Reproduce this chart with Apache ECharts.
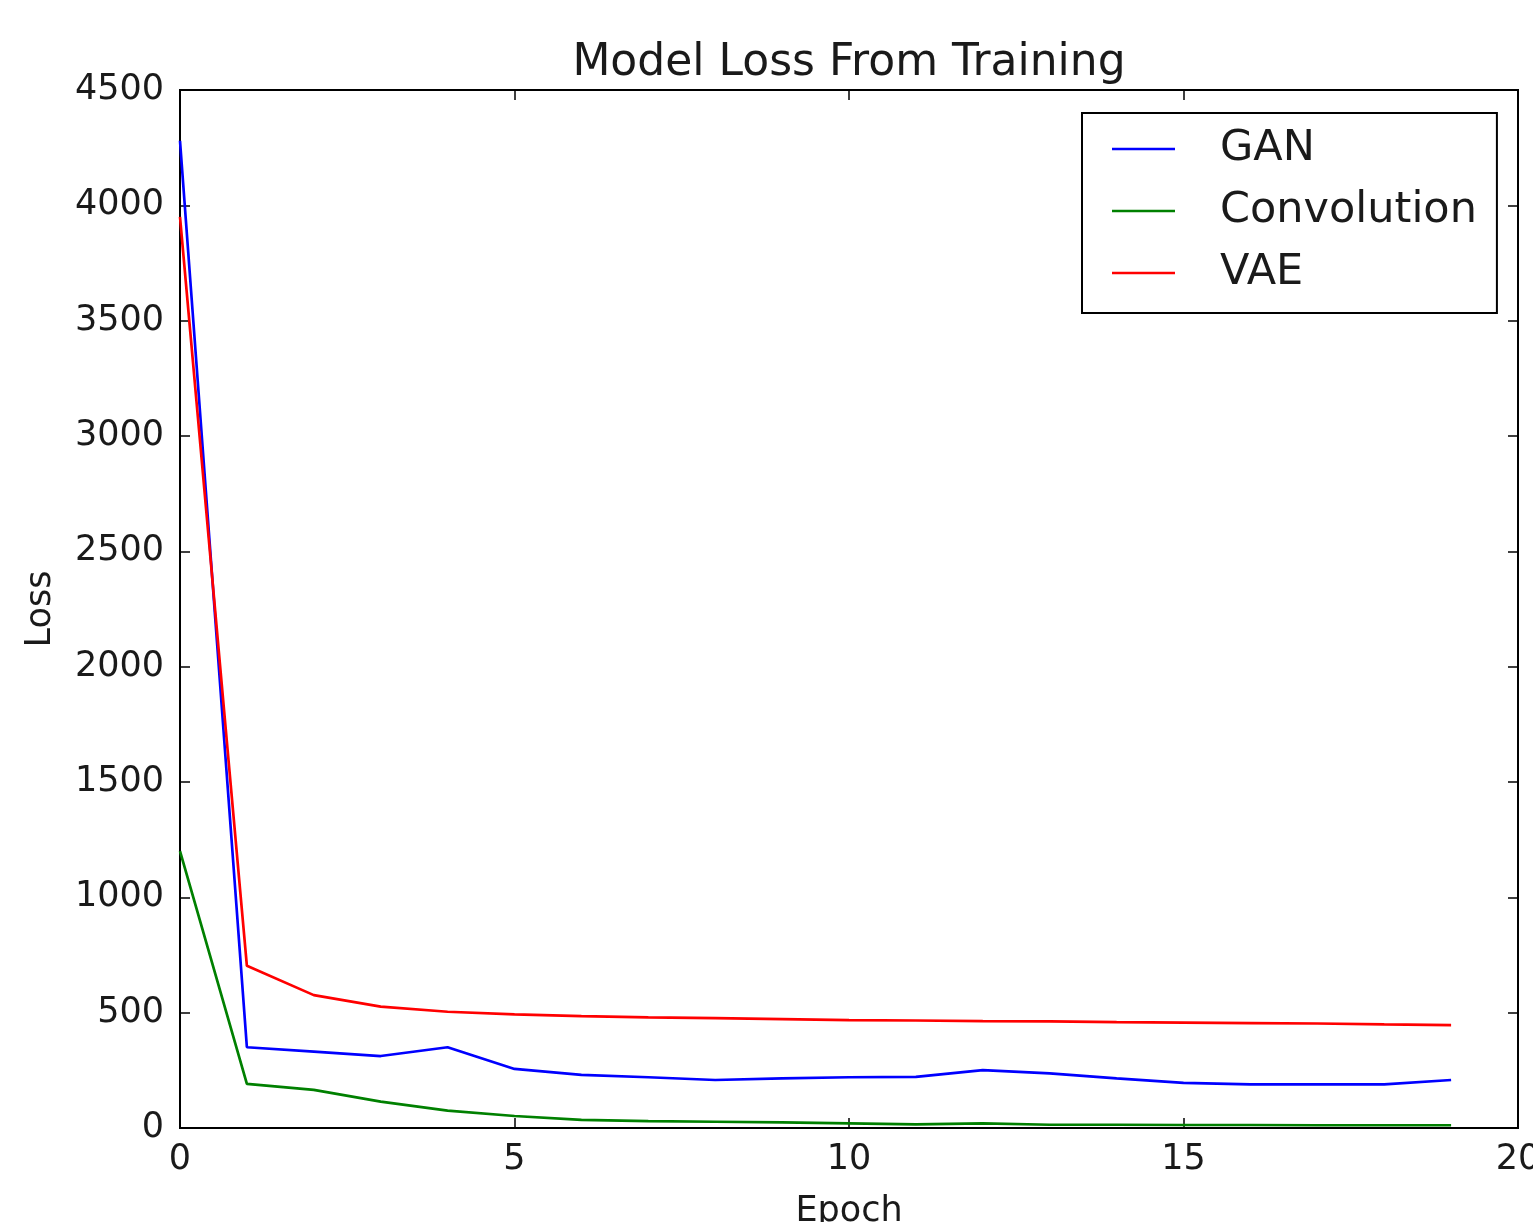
<!DOCTYPE html>
<html>
<head>
<meta charset="utf-8">
<script src="https://cdn.jsdelivr.net/npm/echarts@6/dist/echarts.min.js"></script>
<style>
  html, body { margin: 0; padding: 0; background: #fff; }
  #main { width: 1533px; height: 1222px; }
</style>
</head>
<body>
<div id="main"></div>
<script>
var epochs = [0, 1, 2, 3, 4, 5, 6, 7, 8, 9, 10, 11, 12, 13, 14, 15, 16, 17, 18, 19];
var gan = [4280, 350, 331, 312, 350, 256, 230, 220, 208, 215, 220, 222, 251, 237, 215, 196, 189, 189, 189, 208];
var conv = [1200, 191, 165, 114, 75, 52, 35, 30, 27, 24, 20, 16, 20, 14, 14, 13, 13, 12, 12, 12];
var vae = [3950, 703, 576, 526, 504, 493, 485, 480, 476, 472, 468, 466, 463, 462, 459, 457, 455, 453, 449, 446];

var font = 'DejaVu Sans';
var ink = '#1a1a1a';

function pairs(ys) {
    return epochs.map(function (x, i) { return [x, ys[i]]; });
}

function axisLine() {
    return { show: true, onZero: false, lineStyle: { color: '#000', width: 2 } };
}
function tick() {
    return { show: true, inside: true, length: 10, lineStyle: { color: '#000', width: 1.5 } };
}

var myChart = echarts.init(document.getElementById('main'));
var option = {
    animation: false,
    backgroundColor: '#fff',
    textStyle: { fontFamily: font },
    title: {
        text: 'Model Loss From Training',
        left: 849,
        textAlign: 'center',
        top: 42,
        padding: 0,
        textStyle: { fontFamily: font, fontSize: 44, fontWeight: 'normal', color: ink }
    },
    legend: {
        left: 1082,
        top: 113,
        orient: 'vertical',
        padding: [12, 20, 16, 30],
        borderColor: '#000',
        borderWidth: 2,
        icon: 'rect',
        itemWidth: 63,
        itemHeight: 2.5,
        itemGap: 14,
        textStyle: { fontFamily: font, fontSize: 43, color: ink, lineHeight: 48, padding: [0, 0, 0, 40] },
        data: ['GAN', 'Convolution', 'VAE']
    },
    grid: {
        left: 180, right: 15, top: 90, bottom: 94,
        outerBoundsMode: 'none',
        show: true, borderColor: '#000', borderWidth: 2
    },
    xAxis: [{
        type: 'value',
        min: 0, max: 20, interval: 5,
        name: 'Epoch',
        nameLocation: 'middle',
        nameGap: 66,
        nameTextStyle: { fontFamily: font, fontSize: 35, color: ink },
        axisLine: axisLine(),
        axisTick: tick(),
        axisLabel: { fontFamily: font, fontSize: 35, color: ink, margin: 14 },
        splitLine: { show: false }
    }, {
        type: 'value',
        position: 'top',
        min: 0, max: 20, interval: 5,
        axisLine: axisLine(),
        axisTick: tick(),
        axisLabel: { show: false },
        splitLine: { show: false }
    }],
    yAxis: [{
        type: 'value',
        min: 0, max: 4500, interval: 500,
        name: 'Loss',
        nameLocation: 'middle',
        nameRotate: 90,
        nameGap: 122,
        nameTextStyle: { fontFamily: font, fontSize: 35, color: ink },
        axisLine: axisLine(),
        axisTick: tick(),
        axisLabel: { fontFamily: font, fontSize: 35, color: ink, margin: 16, formatter: function (v) { return String(v); } },
        splitLine: { show: false }
    }, {
        type: 'value',
        position: 'right',
        min: 0, max: 4500, interval: 500,
        axisLine: axisLine(),
        axisTick: tick(),
        axisLabel: { show: false },
        splitLine: { show: false }
    }],
    series: [
        { name: 'GAN', type: 'line', data: pairs(gan), symbol: 'none', color: '#0000ff', lineStyle: { width: 2.7, color: '#0000ff' } },
        { name: 'Convolution', type: 'line', data: pairs(conv), symbol: 'none', color: '#008000', lineStyle: { width: 2.7, color: '#008000' } },
        { name: 'VAE', type: 'line', data: pairs(vae), symbol: 'none', color: '#ff0000', lineStyle: { width: 2.7, color: '#ff0000' } },
        { name: 'frame', type: 'line', xAxisIndex: 1, yAxisIndex: 1, data: [], symbol: 'none', silent: true }
    ]
};
myChart.setOption(option);
window.addEventListener('resize', function () { myChart.resize(); });
</script>
</body>
</html>
